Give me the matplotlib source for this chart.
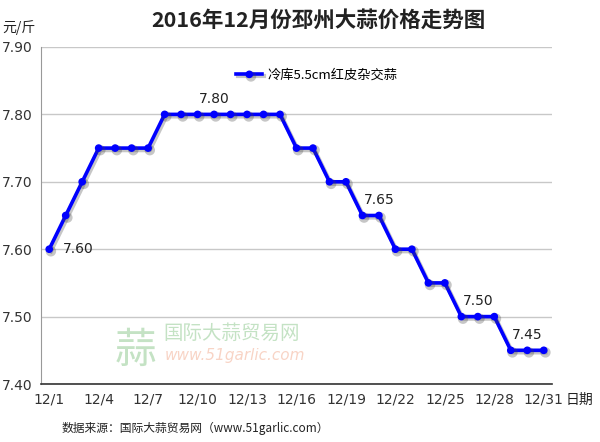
import matplotlib
matplotlib.use('Agg')
import matplotlib.pyplot as plt
import matplotlib.patheffects as pe
import numpy as np

plt.rcParams['font.family'] = ['Noto Sans CJK SC', 'DejaVu Sans']

# 每日价格 (元/斤)
days = [f"12/{d}" for d in range(1, 32)]
prices = [7.60, 7.65, 7.70, 7.75, 7.75, 7.75, 7.75, 7.80, 7.80, 7.80,
          7.80, 7.80, 7.80, 7.80, 7.80, 7.75, 7.75, 7.70, 7.70, 7.65,
          7.65, 7.60, 7.60, 7.55, 7.55, 7.50, 7.50, 7.50, 7.45, 7.45, 7.45]
series_name = "冷库5.5cm红皮杂交蒜"
yticks = [7.40, 7.50, 7.60, 7.70, 7.80, 7.90]
# annotated points: (day index, text)
annotations = [(0, "7.60"), (10, "7.80"), (20, "7.65"), (26, "7.50"), (29, "7.45")]

x = np.arange(len(days))

fig = plt.figure(figsize=(6, 4.42), dpi=100)
ax = fig.add_axes([0.0683, 0.1312, 0.8517, 0.7625])

ax.plot(x, prices, color='#0000ff', lw=2.6, marker='o', ms=4.5,
        label=series_name, zorder=3,
        path_effects=[pe.SimpleLineShadow(offset=(1.2, -1.5), alpha=0.3, shadow_color='#444444', linewidth=3),
                      pe.Normal()])

for i, txt in annotations:
    if i == 0:
        ax.annotate(txt, (x[i], prices[i]), xytext=(10, 0), textcoords='offset points',
                    ha='left', va='center', fontsize=10, family='DejaVu Sans', color='#222222')
    else:
        ax.annotate(txt, (x[i], prices[i]), xytext=(0, 6), textcoords='offset points',
                    ha='center', va='bottom', fontsize=10, family='DejaVu Sans', color='#222222')

ax.set_xlim(-0.5, 30.5)
ax.set_ylim(7.40, 7.90)
ax.set_yticks(yticks)
ax.set_yticklabels([f"{v:.2f}" for v in yticks], family='DejaVu Sans', fontsize=10, color='#333333')
ax.set_xticks(x[::3])
ax.set_xticklabels(days[::3], family='DejaVu Sans', fontsize=10, color='#333333')
ax.tick_params(length=0, pad=6)
ax.grid(axis='y', color='#c8c8c8', lw=1)
ax.set_axisbelow(True)
for s in ['top', 'right']:
    ax.spines[s].set_visible(False)
ax.spines['left'].set_color('#999999')
ax.spines['bottom'].set_color('#333333')
ax.spines['bottom'].set_linewidth(1.2)

leg = ax.legend(loc='upper center', bbox_to_anchor=(0.54, 0.97), frameon=False,
                fontsize=9.5, handlelength=2.0, handletextpad=0.4)

# watermark
fig.text(0.225, 0.205, "蒜", fontsize=30, color='#7cc07c', alpha=0.45, ha='center', va='center')
fig.text(0.272, 0.245, "国际大蒜贸易网", fontsize=14, color='#7cc07c', alpha=0.45, ha='left', va='center')
fig.text(0.275, 0.195, "www.51garlic.com", fontsize=11, color='#f0a080', alpha=0.45,
         ha='left', va='center', style='italic', family='DejaVu Sans')

fig.text(0.53, 0.955, "2016年12月份邳州大蒜价格走势图", fontsize=15.5, ha='center', va='center',
         color='#222222', weight='bold')
fig.text(0.003, 0.938, "元/斤", fontsize=10, ha='left', va='center', color='#222222')
fig.text(0.965, 0.095, "日期", fontsize=10, ha='center', va='center', color='#222222')
fig.text(0.103, 0.03, "数据来源：国际大蒜贸易网（www.51garlic.com）", fontsize=8.5,
         ha='left', va='center', color='#222222')

fig.savefig('out.png', dpi=100)
